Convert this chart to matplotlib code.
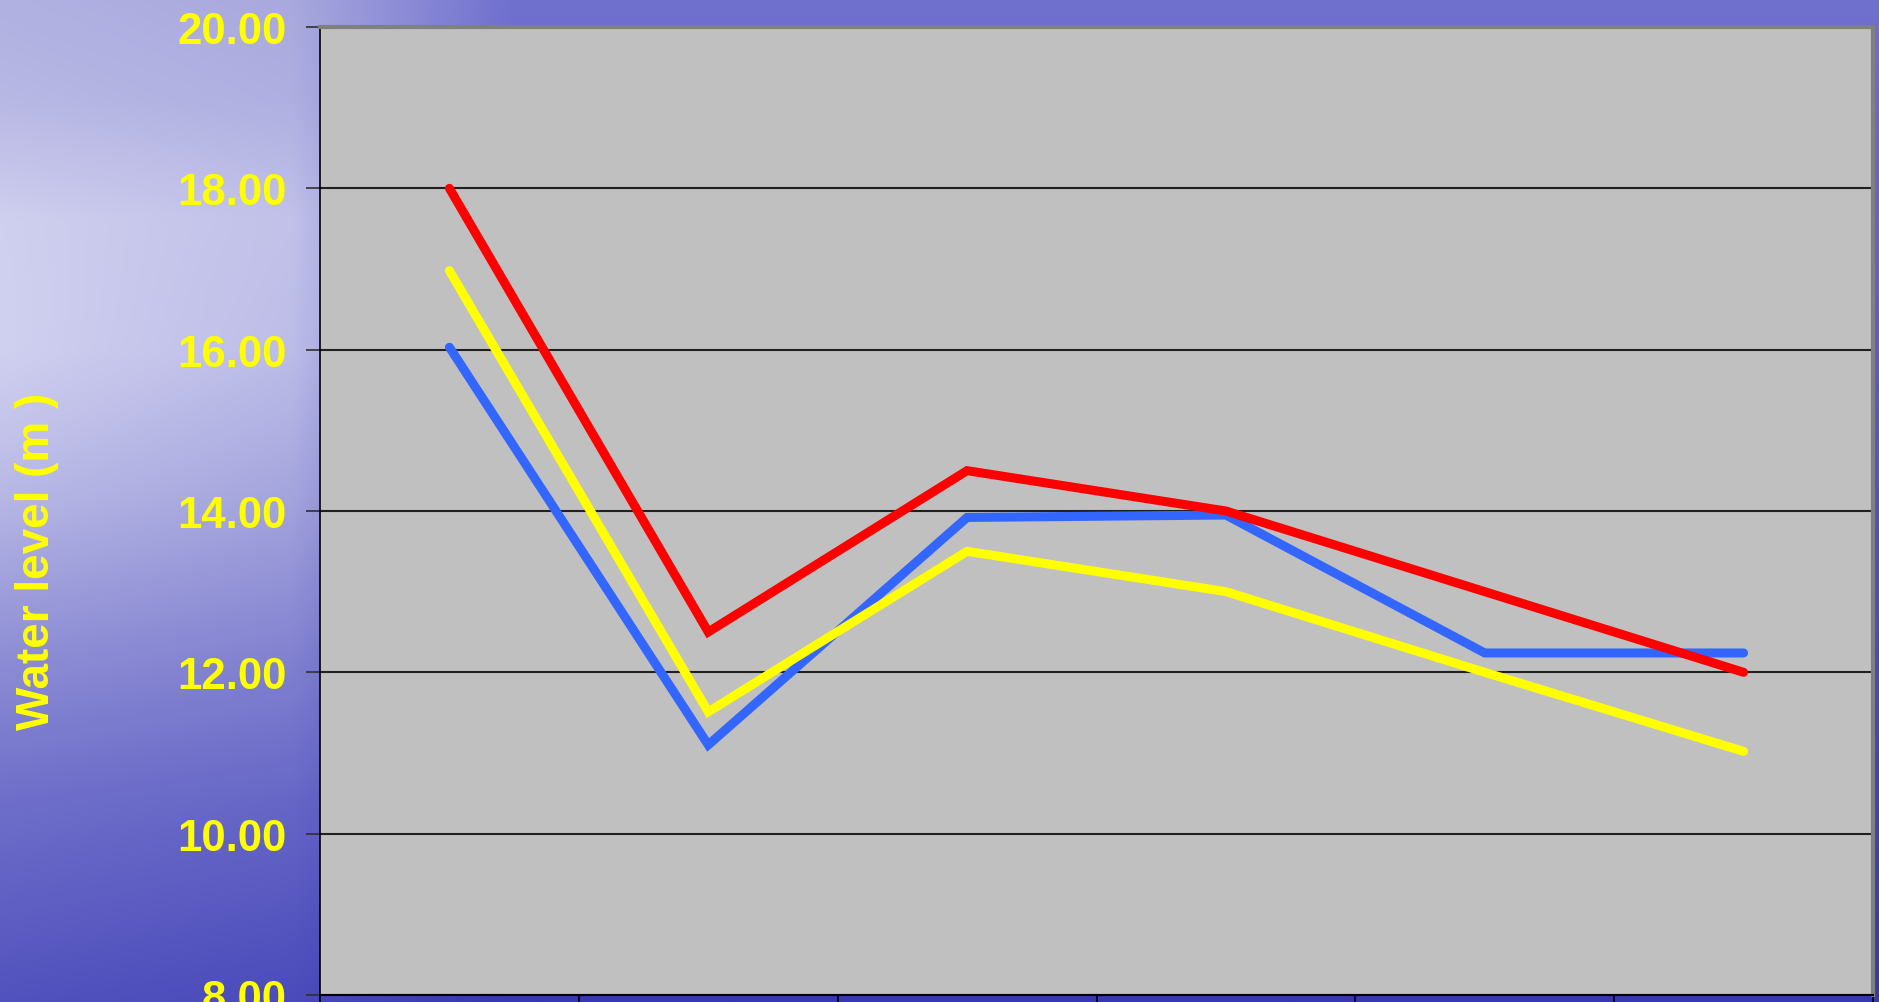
import numpy as np
import matplotlib
matplotlib.use("Agg")
import matplotlib.pyplot as plt

# ---- data ----
categories = ["1", "2", "3", "4", "5", "6"]
red_series = [18.00, 12.50, 14.50, 14.00, 13.00, 12.00]
blue_series = [16.03, 11.10, 13.92, 13.95, 12.24, 12.24]
yellow_series = [16.98, 11.51, 13.50, 13.00, 12.00, 11.02]
y_ticks = [8.0, 10.0, 12.0, 14.0, 16.0, 18.0, 20.0]
y_label = "Water level (m )"

W, H = 1879, 1003
fig = plt.figure(figsize=(W / 100, H / 100), dpi=100)

# ---- background (water-like gradient) ----
bg = fig.add_axes([0, 0, 1, 1], zorder=-10)
ny, nx = 300, 400
ypix = np.linspace(0, H, ny)
xpix = np.linspace(0, W, nx)
ystops = [0, 100, 220, 350, 500, 650, 800, 1003]
lvals = [176, 182, 200, 195, 170, 138, 110, 82]
left_rg = np.interp(ypix, ystops, lvals)
left_b = np.interp(ypix, ystops, [225, 228, 236, 235, 224, 212, 202, 190])
right_rg = np.interp(ypix, [0, 1003], [112, 55])
right_b = np.interp(ypix, [0, 1003], [207, 175])
# mixing weight along x: left column -> plot region colour
s = np.clip((xpix - 290) / 220.0, 0, 1)[None, :]
# lighter toward the far left in the middle band, slightly darker near the axis
xf = xpix / 320.0
glow = (np.clip(1 - xf, 0, 1)[None, :] * 14 *
        np.exp(-((ypix[:, None] - 420) / 240.0) ** 2)) - np.clip(xf, 0, 1)[None, :] * 8
rg = (left_rg[:, None] + glow) * (1 - s) + right_rg[:, None] * s
bb = (left_b[:, None] + glow * 0.4) * (1 - s) + right_b[:, None] * s
img = np.stack([rg, rg, bb], axis=-1) / 255.0
bg.imshow(np.clip(img, 0, 1), aspect="auto", extent=[0, 1, 1, 0], interpolation="bilinear")
bg.set_xlim(0, 1)
bg.set_ylim(1, 0)
bg.axis("off")

# ---- main axes ----
x0, x1 = 320 / W, 1873 / W
y_top, y_bot = 28 / H, 996 / H
ax = fig.add_axes([x0, 1 - y_bot, x1 - x0, y_bot - y_top])
ax.set_facecolor("#c0c0c0")

x = np.arange(len(categories))
lw = 6.5
ax.plot(x, blue_series, color="#3366ff", lw=lw, solid_capstyle="round", solid_joinstyle="miter", zorder=3)
ax.plot(x, yellow_series, color="#ffff00", lw=lw, solid_capstyle="round", solid_joinstyle="miter", zorder=4)
ax.plot(x, red_series, color="#ff0000", lw=lw, solid_capstyle="round", solid_joinstyle="miter", zorder=5)

ax.set_xlim(-0.5, len(categories) - 0.5)
ax.set_ylim(8, 20)
ax.set_yticks(y_ticks)
ax.set_yticklabels([f"{v:.2f}" for v in y_ticks])
ax.yaxis.grid(True, color="#202020", lw=1.5)
ax.set_axisbelow(True)

bounds = np.arange(len(categories) + 1) - 0.5
ax.set_xticks(bounds)
ax.set_xticklabels([""] * len(bounds))

ax.tick_params(axis="y", length=10, width=1.2, color="#303030", pad=14,
               labelsize=31.5, labelcolor="#ffff00")
ax.tick_params(axis="x", length=10, width=1.2, color="black", direction="out")
for lab in ax.get_yticklabels():
    lab.set_fontfamily("Liberation Sans")
    lab.set_fontweight("bold")

ax.spines["left"].set_color("black")
ax.spines["left"].set_linewidth(1.2)
ax.spines["bottom"].set_color("black")
ax.spines["bottom"].set_linewidth(1.5)
ax.spines["top"].set_color("#808080")
ax.spines["top"].set_linewidth(3)
ax.spines["right"].set_color("#808080")
ax.spines["right"].set_linewidth(3)

fig.text(37 / W, 1 - 561 / H, y_label, rotation=90, color="#ffff00",
         fontsize=33, fontweight="bold", family="Liberation Sans",
         ha="center", va="center")

fig.savefig("out.png", dpi=100)
